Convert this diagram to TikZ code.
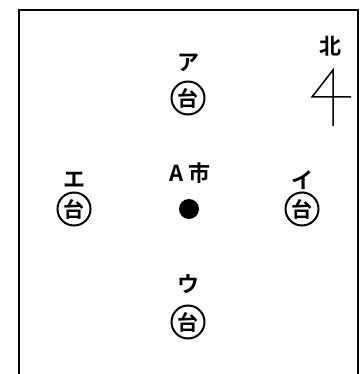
\documentclass[tikz,border=0pt]{standalone}
\usepackage{fontspec}
\newfontfamily\jp{Noto Sans CJK JP Bold}
\begin{document}
\begin{tikzpicture}[x=1pt,y=-1pt,
  lbl/.style={font=\jp\fontsize{22}{22}\selectfont, inner sep=0pt},
  dai/.style={circle, draw, line width=2pt, minimum size=33pt, inner sep=0pt, font=\jp\fontsize{21}{21}\selectfont},
  frame/.style={line width=2.5pt}]
\useasboundingbox (0,0) rectangle (361,374);
\coordinate (bl) at (19,380);
\coordinate (tl) at (19,10);
\coordinate (tr) at (358,10);
\coordinate (br) at (358,380);
\draw[frame] (bl) -- (tl) -- (tr) -- (br);
% north
\node[lbl] (kita) at (330,46) {北};
\coordinate (n1) at (333,70);
\coordinate (n2) at (312,97);
\coordinate (n3) at (351,97);
\coordinate (n4) at (333,126);
\draw[line width=1.5pt] (n4) -- (n1) -- (n2) -- (n3);
% stations
\node[lbl] (a) at (188,63) {ア};
\node[dai] (da) at (188,98) {台};
\node[lbl] (e) at (74,180) {エ};
\node[dai] (de) at (74,209) {台};
\node[lbl] (i) at (302,180) {イ};
\node[dai] (di) at (302,209) {台};
\node[lbl] (u) at (188,284) {ウ};
\node[dai] (du) at (188,322) {台};
\node[lbl] (city) at (190,173) {A\hspace{4pt}市};
\node[circle, fill, minimum size=20pt, inner sep=0pt] (dot) at (189,209) {};
\end{tikzpicture}
\end{document}
